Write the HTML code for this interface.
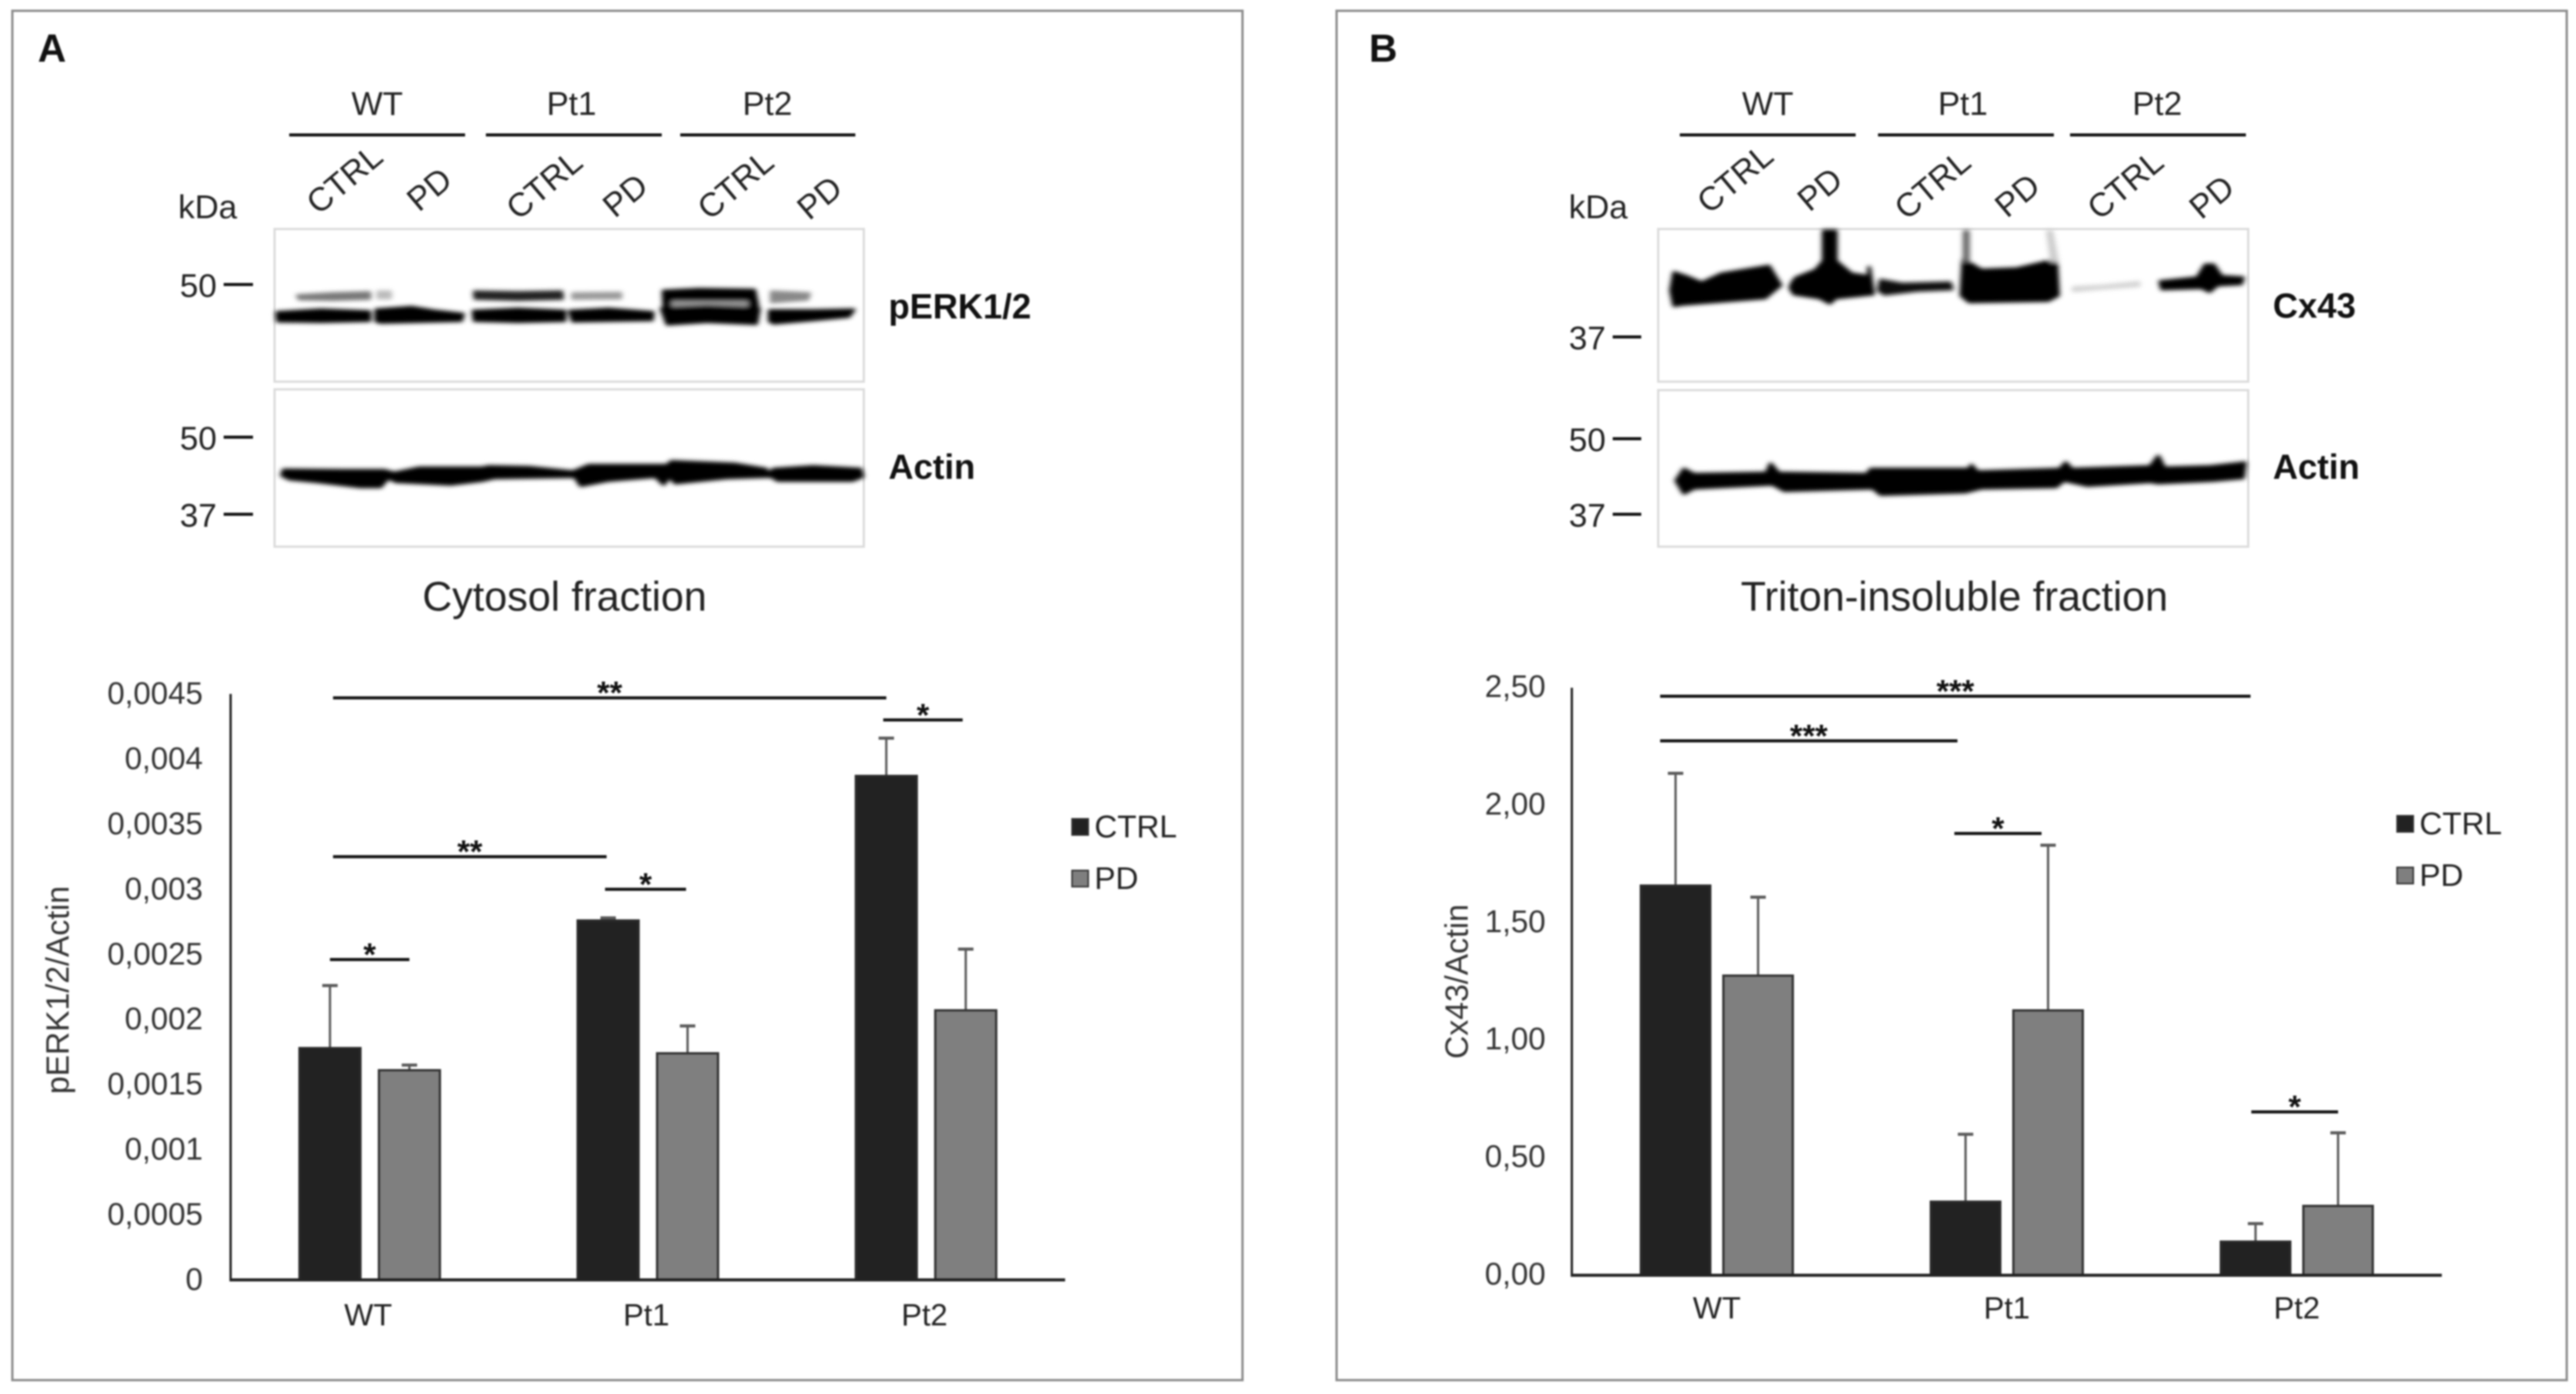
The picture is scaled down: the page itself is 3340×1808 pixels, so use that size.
<!DOCTYPE html>
<html lang="en">
<head>
<meta charset="utf-8">
<title>pERK1/2 and Cx43 western blots</title>
<style>
  html, body { margin: 0; padding: 0; background: #fff; width: 3340px; height: 1808px; overflow: hidden; }
  svg { display: block; filter: blur(1.1px); font-family: "Liberation Sans", Arial, sans-serif; }
  .t { font-size: 43px; fill: #222; }
  .mk { stroke: #111; stroke-width: 4; fill: none; }
  .box { fill: #fff; stroke: #dcdcdc; stroke-width: 3; }
  .b { font-weight: bold; font-size: 45px; fill: #111; }
  .band path { stroke-width: 10; stroke-linejoin: round; }
</style>
</head>
<body>
<svg id="figure" xmlns="http://www.w3.org/2000/svg" width="3340" height="1808" viewBox="0 0 3340 1808">
  <defs>
    <filter id="soft" x="-10%" y="-60%" width="120%" height="220%"><feGaussianBlur stdDeviation="6 8"/></filter>
  </defs>
  <rect width="3340" height="1808" fill="#fff"/>

  <!-- PANEL A -->
  <g id="panel-a">
    <rect x="16" y="14" width="1595" height="1776" fill="#fff" stroke="#8c8c8c" stroke-width="3"/>
    <text x="49" y="80" font-size="51" font-weight="bold" fill="#111">A</text>

    <text class="t" x="489" y="149" text-anchor="middle">WT</text>
    <text class="t" x="741" y="149" text-anchor="middle">Pt1</text>
    <text class="t" x="995" y="149" text-anchor="middle">Pt2</text>
    <path class="mk" d="M375 175H603M630 175H858M882 175H1109"/>

    <text class="t" text-anchor="middle" transform="translate(447 233) rotate(-40) translate(0 14)">CTRL</text>
    <text class="t" text-anchor="middle" transform="translate(557 246) rotate(-40) translate(0 14)">PD</text>
    <text class="t" text-anchor="middle" transform="translate(706 240) rotate(-40) translate(0 14)">CTRL</text>
    <text class="t" text-anchor="middle" transform="translate(811 254) rotate(-40) translate(0 14)">PD</text>
    <text class="t" text-anchor="middle" transform="translate(954 240) rotate(-40) translate(0 14)">CTRL</text>
    <text class="t" text-anchor="middle" transform="translate(1063 257) rotate(-40) translate(0 14)">PD</text>

    <text class="t" x="231" y="283">kDa</text>
    <rect class="box" x="356" y="297" width="764" height="198"/>
    <rect class="box" x="356" y="505" width="764" height="204"/>

    <text class="t" x="281" y="385" text-anchor="end">50</text>
    <text class="t" x="281" y="583" text-anchor="end">50</text>
    <text class="t" x="281" y="683" text-anchor="end">37</text>
    <path class="mk" d="M290 369H328M290 567H328M290 667H328"/>

    <g class="band" transform="translate(340 290) scale(0.5102 0.3333)">
      <g filter="url(#soft)">
        <path fill="#777" stroke="#777" d="M90 280L180 272L272 268L272 292L180 296L95 294Z"/>
        <path fill="#bbb" stroke="#bbb" d="M295 265H325V290H295Z"/>
        <path fill="#222" stroke="#222" d="M540 265L650 268L760 265L762 292L650 296L542 292Z"/>
        <path fill="#999" stroke="#999" d="M790 272L910 270L910 290L790 292Z"/>
        <path fill="#000" stroke="#000" d="M1020 262L1110 255L1250 258L1258 320H1230L1180 298L1100 298L1045 320H1022Z"/>
        <path fill="#999" stroke="#999" d="M1045 306H1230V318H1045Z"/>
        <path fill="#888" stroke="#888" d="M1295 265L1390 272L1385 295L1295 305Z"/>
        <path fill="#000" stroke="#000" d="M38 345L150 335L272 342L272 378L150 382L40 380Z"/>
        <path fill="#000" stroke="#000" d="M290 335L380 325L440 340L510 352L505 378L300 385L290 380Z"/>
        <path fill="#000" stroke="#000" d="M537 340L650 332L768 340L768 378L650 382L540 378Z"/>
        <path fill="#000" stroke="#000" d="M782 340L880 332L992 345L990 375L790 380Z"/>
        <path fill="#000" stroke="#000" d="M1015 330L1130 322L1262 330L1255 390L1130 382L1030 392Z"/>
        <path fill="#000" stroke="#000" d="M1290 338L1400 338L1503 335L1490 362L1400 375L1300 388L1290 380Z"/>
      </g>
    </g>
    <g class="band" transform="translate(340 290) scale(0.5102 0.3333)">
      <path filter="url(#soft)" fill="#000" stroke="#000" d="M55 958L200 960L310 960L335 970L400 950L560 950L575 945L680 948L790 965L830 940L1030 940L1040 925L1200 935L1280 955L1285 975L1300 955L1400 945L1520 955L1525 985L1500 1000L1310 1000L1295 985L1280 985L1180 990L1050 1010L1035 985L1020 1015L1000 985L880 1000L810 1020L795 985L590 990L560 1000L480 1015L340 1005L320 990L300 1025L250 1025L140 1005L70 995L50 980Z"/>
    </g>

    <text class="b" x="1152" y="413">pERK1/2</text>
    <text class="b" x="1152" y="621">Actin</text>
    <text x="732" y="792" text-anchor="middle" font-size="53.5" fill="#222">Cytosol fraction</text>
  </g>

  <!-- PANEL B -->
  <g id="panel-b">
    <rect x="1733" y="14" width="1595" height="1776" fill="#fff" stroke="#8c8c8c" stroke-width="3"/>
    <text x="1775" y="80" font-size="51" font-weight="bold" fill="#111">B</text>

    <text class="t" x="2292" y="149" text-anchor="middle">WT</text>
    <text class="t" x="2545" y="149" text-anchor="middle">Pt1</text>
    <text class="t" x="2797" y="149" text-anchor="middle">Pt2</text>
    <path class="mk" d="M2178 175H2406M2435 175H2663M2684 175H2912"/>

    <text class="t" text-anchor="middle" transform="translate(2250 232) rotate(-40) translate(0 14)">CTRL</text>
    <text class="t" text-anchor="middle" transform="translate(2360 246) rotate(-40) translate(0 14)">PD</text>
    <text class="t" text-anchor="middle" transform="translate(2506 240) rotate(-40) translate(0 14)">CTRL</text>
    <text class="t" text-anchor="middle" transform="translate(2616 254) rotate(-40) translate(0 14)">PD</text>
    <text class="t" text-anchor="middle" transform="translate(2756 240) rotate(-40) translate(0 14)">CTRL</text>
    <text class="t" text-anchor="middle" transform="translate(2868 256) rotate(-40) translate(0 14)">PD</text>

    <text class="t" x="2034" y="283">kDa</text>
    <rect class="box" x="2150" y="297" width="765" height="198"/>
    <rect class="box" x="2150" y="506" width="765" height="203"/>

    <text class="t" x="2082" y="453" text-anchor="end">37</text>
    <text class="t" x="2082" y="585" text-anchor="end">50</text>
    <text class="t" x="2082" y="683" text-anchor="end">37</text>
    <path class="mk" d="M2091 437H2128M2091 569H2128M2091 667H2128"/>

    <g class="band" transform="translate(2130 280) scale(0.5102 0.3333)">
      <g filter="url(#soft)">
        <path fill="#000" stroke="#000" d="M80 220L110 235L150 260L200 225L320 195L350 270L310 320L100 345L80 350L72 290Z"/>
        <path fill="#000" stroke="#000" d="M380 260L390 240L440 210L460 175L460 58L490 58L490 175L530 225L575 235L575 200L585 305L490 320L475 340L450 320L385 305L375 280Z"/>
        <path fill="#111" stroke="#111" d="M605 250L660 265L780 260L785 285L700 290L615 305L600 290Z"/>
        <path fill="#000" stroke="#000" d="M815 170L860 210L950 205L1050 170L1055 310L1030 330L830 335L810 310Z"/>
        <path fill="#666" stroke="#666" d="M818 60H826V175H818Z"/>
        <path fill="#ccc" stroke="#ccc" d="M1030 60H1038L1052 175H1040Z"/>
        <path fill="#d4d4d4" stroke="#d4d4d4" d="M1095 278L1170 272L1260 258V272L1170 282L1095 292Z"/>
        <path fill="#000" stroke="#000" d="M1315 255L1410 240L1430 190L1450 190L1470 235L1525 240L1520 265L1460 270L1440 295L1420 280L1320 285Z"/>
      </g>
    </g>
    <g class="band" transform="translate(2130 280) scale(0.5102 0.3333)">
      <path filter="url(#soft)" fill="#000" stroke="#000" d="M85 1030L105 985L130 1005L315 1000L325 965L345 1000L570 1005L580 985L830 985L835 970L850 995L1060 985L1075 960L1090 985L1290 975L1310 935L1325 980L1440 975L1530 960L1525 1020L1450 1030L1310 1040L1290 1035L1130 1050L1070 1030L1050 1055L860 1060L820 1075L605 1085L585 1060L360 1070L330 1045L130 1060L105 1080Z"/>
    </g>

    <text class="b" x="2947" y="412">Cx43</text>
    <text class="b" x="2947" y="621">Actin</text>
    <text x="2534" y="792" text-anchor="middle" font-size="53.5" fill="#222">Triton-insoluble fraction</text>
  </g>

  <g id="chart-a"></g>
  <g id="chart-b"></g>
</svg>

<script>
// ---- Chart A data ----
var categoriesA = ["WT", "Pt1", "Pt2"];
var ctrlValuesA = [0.00178, 0.00276, 0.00387];
var pdValuesA = [0.00161, 0.00174, 0.00207];
var ctrlErrorsA = [0.00048, 0.00002, 0.00029];
var pdErrorsA = [0.00004, 0.00021, 0.00047];
var tickValuesA = [0, 0.0005, 0.001, 0.0015, 0.002, 0.0025, 0.003, 0.0035, 0.004, 0.0045];
var tickLabelsA = ["0", "0,0005", "0,001", "0,0015", "0,002", "0,0025", "0,003", "0,0035", "0,004", "0,0045"];
var sigLabelsA = ["**", "*", "**", "*", "*"];
var sigFromA = [0, 4, 0, 2, 0];
var sigToA = [4, 5, 2, 3, 1];
var sigLevelsA = [0.00447, 0.0043, 0.00325, 0.003, 0.00246];

// ---- Chart B data ----
var categoriesB = ["WT", "Pt1", "Pt2"];
var ctrlValuesB = [1.658, 0.313, 0.143];
var pdValuesB = [1.275, 1.127, 0.295];
var ctrlErrorsB = [0.478, 0.287, 0.077];
var pdErrorsB = [0.334, 0.703, 0.311];
var tickValuesB = [0, 0.5, 1, 1.5, 2, 2.5];
var tickLabelsB = ["0,00", "0,50", "1,00", "1,50", "2,00", "2,50"];
var sigLabelsB = ["***", "***", "*", "*"];
var sigFromB = [0, 0, 2, 4];
var sigToB = [4, 2, 3, 5];
var sigLevelsB = [2.464, 2.274, 1.88, 0.695];

var SVG_NS = "http://www.w3.org/2000/svg";

function node(tag, attrs, parent, content) {
  var el = document.createElementNS(SVG_NS, tag);
  for (var k in attrs) { el.setAttribute(k, attrs[k]); }
  if (content !== undefined) { el.textContent = content; }
  parent.appendChild(el);
  return el;
}

function drawChart(root, cfg) {
  function yScale(v) { return cfg.baseY - (v / cfg.maxValue) * cfg.plotH; }
  function groupCenter(i) { return cfg.axisX + (i + 0.5) * (cfg.axisEnd - cfg.axisX) / cfg.categories.length; }
  function barCenter(slot) {
    var g = Math.floor(slot / 2);
    return groupCenter(g) + (slot % 2 === 0 ? -cfg.offset : cfg.offset);
  }

  // bars and error bars
  cfg.categories.forEach(function (cat, i) {
    [[cfg.ctrl, cfg.ctrlErr, "#222222", "#2b2b2b", "ctrl", 0], [cfg.pd, cfg.pdErr, "#7f7f7f", "#333333", "pd", 1]].forEach(function (s) {
      var v = s[0][i], e = s[1][i];
      var cx = barCenter(i * 2 + s[5]);
      var errTop = yScale(v + e);
      var stem = node("line", { x1: cx, x2: cx, y1: yScale(v), y2: errTop, stroke: "#5a5a5a", "stroke-width": 3 }, root);
      
      
      var cap = node("line", { x1: cx - 10, x2: cx + 10, y1: errTop, y2: errTop, stroke: "#5a5a5a", "stroke-width": 4 }, root);
      
      
      var bar = node("rect", { x: cx - cfg.barW / 2, y: yScale(v), width: cfg.barW, height: cfg.baseY - yScale(v), fill: s[2], stroke: s[3], "stroke-width": 3 }, root);
      
      
    });
    var catLabel = node("text", { x: groupCenter(i) + cfg.catShift, y: cfg.catY, "text-anchor": "middle", "font-size": 40, fill: "#222" }, root, cat);
    
    
  });

  // axes
  var yAxis = node("line", { x1: cfg.axisX, x2: cfg.axisX, y1: yScale(cfg.maxValue), y2: cfg.baseY + 2, stroke: "#222", "stroke-width": 3 }, root);
  
  
  var xAxis = node("line", { x1: cfg.axisX, x2: cfg.axisEnd, y1: cfg.baseY, y2: cfg.baseY, stroke: "#222", "stroke-width": 4 }, root);
  
  

  // ticks
  cfg.tickValues.forEach(function (v, i) {
    var tick = node("text", { x: cfg.tickX, y: yScale(v) + cfg.tickDy, "text-anchor": "end", "font-size": 40.5, fill: "#333" }, root, cfg.tickLabels[i]);
    
    
  });

  // y title
  var title = node("text", { transform: "translate(" + cfg.titleX + " " + cfg.titleY + ") rotate(-90)", "text-anchor": "middle", "font-size": 41.5, fill: "#333" }, root, cfg.title);
  
  

  // significance brackets (nudges align each end with the drawn bracket in the figure)
  cfg.sigLabels.forEach(function (lab, i) {
    var x1 = barCenter(cfg.sigFrom[i]) + cfg.fromNudge[i], x2 = barCenter(cfg.sigTo[i]) + cfg.toNudge[i], y = yScale(cfg.sigLevels[i]);
    var ln = node("line", { x1: x1, x2: x2, y1: y, y2: y, stroke: "#111", "stroke-width": 4 }, root);
    
    
    var st = node("text", { x: (x1 + x2) / 2, y: y + 8, "text-anchor": "middle", "font-size": 42, "font-weight": "bold", fill: "#111" }, root, lab);
    
    
  });

  // legend
  var sq1 = node("rect", { x: cfg.legX, y: cfg.legY1 - 10, width: 21, height: 21, fill: "#222", stroke: "#333", "stroke-width": 2 }, root);
  
  
  var t1 = node("text", { x: cfg.legX + 29, y: cfg.legY1 + 14, "font-size": 41, fill: "#222" }, root, "CTRL");
  
  
  var sq2 = node("rect", { x: cfg.legX, y: cfg.legY2 - 10, width: 21, height: 21, fill: "#7f7f7f", stroke: "#333", "stroke-width": 2 }, root);
  
  
  var t2 = node("text", { x: cfg.legX + 29, y: cfg.legY2 + 14, "font-size": 41, fill: "#222" }, root, "PD");
  
  
}

drawChart(document.getElementById("chart-a"), {
  categories: categoriesA, ctrl: ctrlValuesA, pd: pdValuesA, ctrlErr: ctrlErrorsA, pdErr: pdErrorsA,
  tickValues: tickValuesA, tickLabels: tickLabelsA,
  sigLabels: sigLabelsA, sigFrom: sigFromA, sigTo: sigToA, sigLevels: sigLevelsA,
  fromNudge: [4, -4, 4, -4, 0], toNudge: [0, -4, -2, -2, 0],
  maxValue: 0.0045, baseY: 1660, plotH: 760, axisX: 299, axisEnd: 1381,
  offset: 51.5, barW: 79, tickX: 263, tickDy: 13, catY: 1719, catShift: -2,
  title: "pERK1/2/Actin", titleX: 89, titleY: 1284,
  legX: 1390, legY1: 1072, legY2: 1139
});

drawChart(document.getElementById("chart-b"), {
  categories: categoriesB, ctrl: ctrlValuesB, pd: pdValuesB, ctrlErr: ctrlErrorsB, pdErr: pdErrorsB,
  tickValues: tickValuesB, tickLabels: tickLabelsB,
  sigLabels: sigLabelsB, sigFrom: sigFromB, sigTo: sigToB, sigLevels: sigLevelsB,
  fromNudge: [-20, -20, -14.5, -5.5], toNudge: [-6.5, -10.5, -8.5, 0],
  maxValue: 2.5, baseY: 1654, plotH: 762, axisX: 2038, axisEnd: 3166,
  offset: 53.5, barW: 90, tickX: 2004, tickDy: 12, catY: 1710, catShift: 0,
  title: "Cx43/Actin", titleX: 1903, titleY: 1273,
  legX: 3108, legY1: 1068, legY2: 1135
});
</script>
</body>
</html>
